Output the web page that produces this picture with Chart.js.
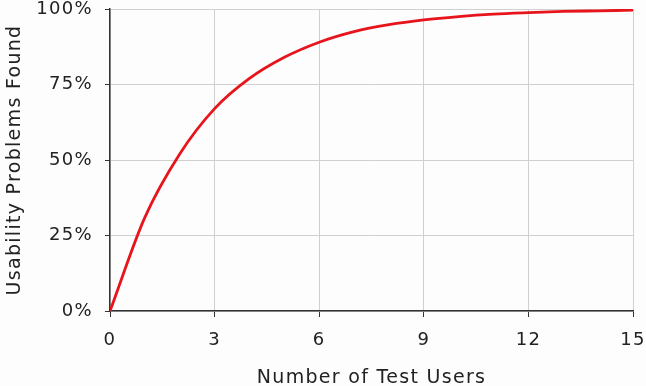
<!DOCTYPE html>
<html><head><meta charset="utf-8">
<script src="https://cdn.jsdelivr.net/npm/chart.js@4"></script>
<style>html,body{margin:0;padding:0;background:#fdfdfd}#w{width:646px;height:386px}</style>
</head><body><div id="w"><canvas id="c"></canvas></div>
<script>
const users = [0,1,2,3,4,5,6,7,8,9,10,11,12,13,14,15];
const found = [0,31,52,67,77,84,89,92.5,94.8,96.4,97.5,98.3,98.8,99.2,99.4,99.6];
const xTicks = [0,3,6,9,12,15];
const yTicks = [0,25,50,75,100];
const xTitle = 'Number of Test Users';
const yTitle = 'Usability Problems Found';

const font = {family:'"DejaVu Sans", Verdana, sans-serif', size:18};
const spacing = {id:'spacing',
  beforeLayout(c){c.ctx.letterSpacing='1.3px';},
  beforeDraw(c){c.ctx.letterSpacing='1.3px';}};
new Chart(document.getElementById('c'), {
  type:'line',
  plugins:[spacing],
  data:{datasets:[{data:users.map((u,i)=>({x:u,y:found[i]})), borderColor:'#e8141b', borderWidth:2.8, pointRadius:0, cubicInterpolationMode:'monotone', fill:false}]},
  options:{
    responsive:true, maintainAspectRatio:false, animation:false,
    layout:{padding:{left:0,right:13,top:9,bottom:0}},
    plugins:{legend:{display:false},tooltip:{enabled:false}},
    scales:{
      x:{type:'linear',min:0,max:15,
        afterBuildTicks:s=>{s.ticks=xTicks.map(v=>({value:v}));},
        afterFit:s=>{s.height=75;s.paddingLeft=0;s.paddingRight=0;},
        ticks:{font,color:'#222',padding:13},
        grid:{color:'#d0d0d0',tickColor:'#333',tickLength:6},
        border:{color:'#333',width:1.5},
        title:{display:true,text:xTitle,font:{...font,size:19},color:'#222',padding:{top:4,bottom:-3}}},
      y:{type:'linear',min:0,max:100,
        afterBuildTicks:s=>{s.ticks=yTicks.map(v=>({value:v}));},
        afterFit:s=>{s.width=110;s.paddingTop=0;s.paddingBottom=0;},
        ticks:{font,color:'#222',padding:12,callback:v=>v+'%'},
        grid:{color:'#d0d0d0',tickColor:'#333',tickLength:5},
        border:{color:'#333',width:1.5},
        title:{display:true,text:yTitle,font:{...font,size:19},color:'#222',padding:{top:4,bottom:0}}}
    }
  }
});
</script></body></html>
